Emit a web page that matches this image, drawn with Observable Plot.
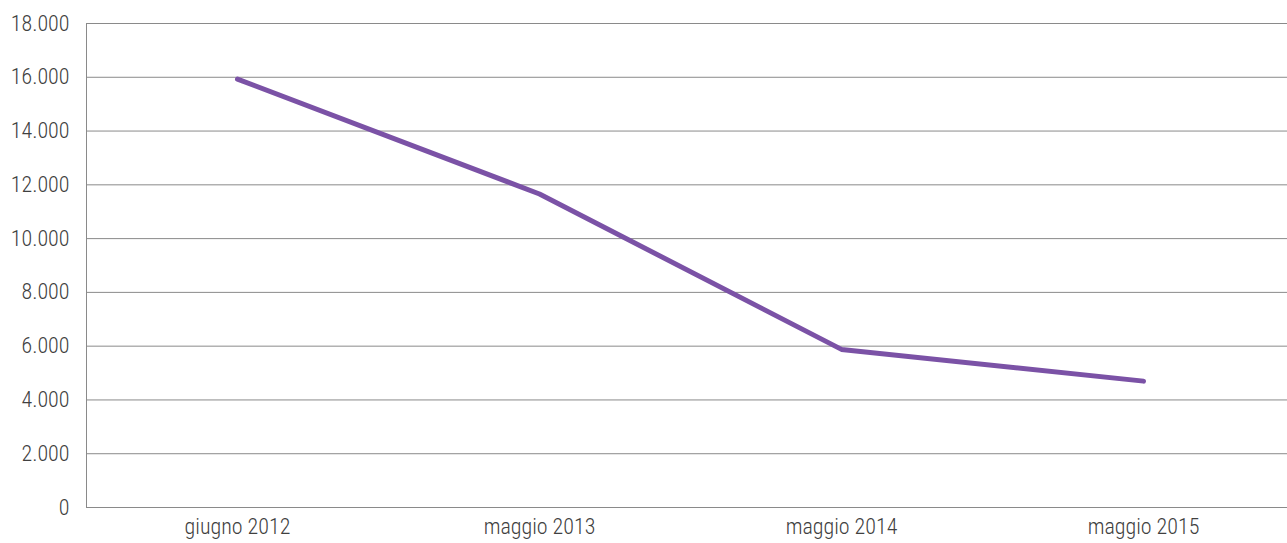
<!DOCTYPE html>
<html>
<head>
<meta charset="utf-8">
<script src="https://cdn.jsdelivr.net/npm/d3@7"></script>
<script src="https://cdn.jsdelivr.net/npm/@observablehq/plot@0.6"></script>
<style>
  html, body { margin: 0; padding: 0; background: #fff; overflow: hidden; }
  #chart svg { display: block; }
</style>
</head>
<body>
<div id="chart"></div>
<script>
const periods = ["giugno 2012", "maggio 2013", "maggio 2014", "maggio 2015"];
const values = [15930, 11660, 5880, 4700];
const yTicks = [0, 2000, 4000, 6000, 8000, 10000, 12000, 14000, 16000, 18000];

const data = periods.map((p, i) => ({period: p, value: values[i]}));
const it = d3.formatLocale({decimal: ",", thousands: ".", grouping: [3], currency: ["€", ""]});
const fmt = it.format(",d");

const chart = Plot.plot({
  width: 1287,
  height: 543,
  marginTop: 23,
  marginBottom: 36,
  marginLeft: 86,
  marginRight: 0,
  style: {fontFamily: "'Roboto Condensed', 'Liberation Sans Narrow', Roboto, sans-serif", fontSize: "22px", fontWeight: 300, color: "#404040", background: "#fff"},
  x: {type: "point", domain: periods, range: [86, 1294], padding: 0.5},
  y: {domain: [0, 18000], ticks: yTicks},
  marks: [
    Plot.ruleY(yTicks, {stroke: "#8a8a8a", strokeWidth: 1, strokeOpacity: 1}),
    Plot.frame({anchor: "left", stroke: "#8a8a8a", strokeOpacity: 1}),
    Plot.axisY({ticks: yTicks, tickFormat: fmt, tickSize: 0, tickPadding: 17, label: null, fontSize: 22, fontWeight: 300, fill: "#404040"}),
    Plot.axisX({tickSize: 0, tickPadding: 11, label: null, fontSize: 22, fontWeight: 300, fill: "#404040"}),
    Plot.line(data, {x: "period", y: "value", stroke: "#7B52A6", strokeWidth: 5, strokeLinecap: "round", strokeLinejoin: "round"})
  ]
});
document.getElementById("chart").appendChild(chart);
</script>
</body>
</html>
